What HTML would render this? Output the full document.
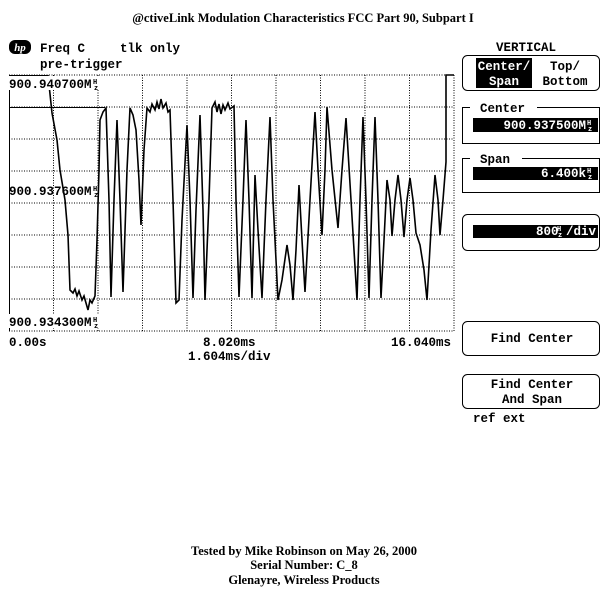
<!DOCTYPE html>
<html><head><meta charset="utf-8"><style>
html,body{margin:0;padding:0;background:#fff;}
svg{display:block}
.m{font-family:"Liberation Mono",monospace;font-weight:bold;font-size:12.5px;fill:#000}
.s{font-family:"Liberation Serif",serif;font-weight:bold;font-size:12.5px;fill:#000}
</style></head><body>
<svg width="607" height="593" viewBox="0 0 607 593" xmlns="http://www.w3.org/2000/svg">
<rect width="607" height="593" fill="#fff"/>
<text class="s" x="303" y="22" text-anchor="middle">@ctiveLink Modulation Characteristics FCC Part 90, Subpart I</text>
<!-- hp logo -->
<rect x="9" y="40" width="22" height="14" rx="6" fill="#000"/>
<text x="20" y="51" text-anchor="middle" font-family="Liberation Serif,serif" font-style="italic" font-weight="bold" font-size="11" fill="#fff">hp</text>
<text class="m" x="40" y="52">Freq C</text>
<text class="m" x="120" y="52">tlk only</text>
<text class="m" x="40" y="68">pre-trigger</text>
<!-- grid -->
<g stroke="#000" stroke-width="1" stroke-dasharray="1,1.5" fill="none">
<line x1="9" y1="107" x2="454" y2="107"/><line x1="9" y1="139" x2="454" y2="139"/>
<line x1="9" y1="171" x2="454" y2="171"/><line x1="9" y1="203" x2="454" y2="203"/>
<line x1="9" y1="235" x2="454" y2="235"/><line x1="9" y1="267" x2="454" y2="267"/>
<line x1="9" y1="299" x2="454" y2="299"/><line x1="9" y1="331" x2="454" y2="331"/>
<line x1="9" y1="75" x2="454" y2="75"/>
<line x1="53.5" y1="75" x2="53.5" y2="331"/><line x1="98" y1="75" x2="98" y2="331"/>
<line x1="142.5" y1="75" x2="142.5" y2="331"/><line x1="187" y1="75" x2="187" y2="331"/>
<line x1="231.5" y1="75" x2="231.5" y2="331"/><line x1="276" y1="75" x2="276" y2="331"/>
<line x1="320.5" y1="75" x2="320.5" y2="331"/><line x1="365" y1="75" x2="365" y2="331"/>
<line x1="409.5" y1="75" x2="409.5" y2="331"/><line x1="454" y1="75" x2="454" y2="331"/>
</g>
<line x1="9.5" y1="75" x2="9.5" y2="331" stroke="#000"/>
<line x1="9" y1="75.5" x2="48" y2="75.5" stroke="#000"/>
<line x1="9" y1="107.5" x2="105" y2="107.5" stroke="#000"/>
<polyline fill="none" stroke="#000" stroke-width="1.6" points="48,75 52,113 57,140 60,170 65,200 68,235 70,290 73,293 75,289 77,296 79,291 82,300 84,296 86,303 88,310 90,300 92,303 95,296 97,240 99,170 100,120 103,112 106,108 109,200 111,297 114,200 117,120 120,200 123,292 127,170 130,108 133,115 136,130 139,180 141,225 144,150 147,108 150,112 152,104 155,110 157,102 159,109 161,99 163,108 166,103 168,112 170,110 173,200 176,303 179,300 182,220 187,125 190,200 193,298 196,210 200,115 203,210 205,300 209,200 212,108 215,102 217,112 219,104 221,114 223,105 225,110 228,103 230,109 234,106 236,200 239,297 243,200 246,120 249,200 252,298 255,175 258,230 262,298 266,200 270,117 273,200 278,300 282,280 287,245 290,265 293,300 296,250 299,185 302,240 305,292 310,200 315,112 318,170 322,235 325,170 327,107 332,170 338,228 342,170 346,118 351,200 357,300 360,200 363,117 366,200 369,298 372,200 375,117 378,200 381,298 384,240 387,180 390,200 392,236 395,200 398,175 401,200 404,237 407,200 410,178 413,200 416,233 420,245 424,270 427,300 431,230 435,175 438,200 440,235 443,200 446,162 446,75 454,75"/>
<!-- axis labels -->
<rect x="9" y="76" width="98" height="14" fill="#fff"/>
<text class="m" x="9" y="88">900.940700M</text>
<text class="m" x="9" y="195">900.937600M</text>
<rect x="9" y="314" width="98" height="14" fill="#fff"/>
<text class="m" x="9" y="326">900.934300M</text>
<text x="93" y="84" font-family="Liberation Mono,monospace" font-size="7" font-weight="bold">H</text><text x="94" y="90" font-family="Liberation Mono,monospace" font-size="7" font-weight="bold">z</text>
<text x="93" y="191" font-family="Liberation Mono,monospace" font-size="7" font-weight="bold">H</text><text x="94" y="197" font-family="Liberation Mono,monospace" font-size="7" font-weight="bold">z</text>
<text x="93" y="322" font-family="Liberation Mono,monospace" font-size="7" font-weight="bold">H</text><text x="94" y="328" font-family="Liberation Mono,monospace" font-size="7" font-weight="bold">z</text>
<text class="m" x="9" y="346">0.00s</text>
<text class="m" x="203" y="346">8.020ms</text>
<text class="m" x="188" y="360">1.604ms/div</text>
<text class="m" x="391" y="346">16.040ms</text>
<!-- right panel -->
<text class="m" x="496" y="51">VERTICAL</text>
<rect x="462.5" y="55.5" width="137" height="35" rx="5" fill="none" stroke="#000"/>
<rect x="476" y="58" width="56" height="30" fill="#000"/>
<text class="m" x="504" y="70" text-anchor="middle" style="fill:#fff">Center/</text>
<text class="m" x="504" y="85" text-anchor="middle" style="fill:#fff">Span</text>
<text class="m" x="565" y="70" text-anchor="middle">Top/</text>
<text class="m" x="565" y="85" text-anchor="middle">Bottom</text>

<path d="M470 107.5 H462.5 V143.5 H599.5 V107.5 H537" fill="none" stroke="#000"/>
<text class="m" x="480" y="112">Center</text>
<rect x="473" y="118" width="125" height="14" fill="#000"/>
<text class="m" x="586" y="129" text-anchor="end" style="fill:#fff">900.937500M</text>
<text x="587" y="125" font-family="Liberation Mono,monospace" font-size="7" font-weight="bold" fill="#fff">H</text><text x="588" y="131" font-family="Liberation Mono,monospace" font-size="7" font-weight="bold" fill="#fff">z</text>

<path d="M470 158.5 H462.5 V192.5 H599.5 V158.5 H522" fill="none" stroke="#000"/>
<text class="m" x="480" y="163">Span</text>
<rect x="473" y="167" width="125" height="13" fill="#000"/>
<text class="m" x="586" y="177" text-anchor="end" style="fill:#fff">6.400k</text>
<text x="587" y="173" font-family="Liberation Mono,monospace" font-size="7" font-weight="bold" fill="#fff">H</text><text x="588" y="179" font-family="Liberation Mono,monospace" font-size="7" font-weight="bold" fill="#fff">z</text>

<rect x="462.5" y="214.5" width="137" height="36" rx="5" fill="none" stroke="#000"/>
<rect x="473" y="225" width="125" height="13" fill="#000"/>
<text class="m" x="596" y="235" text-anchor="end" style="fill:#fff">800&#160;/div</text>
<text x="557" y="231" font-family="Liberation Mono,monospace" font-size="7" font-weight="bold" fill="#fff">H</text><text x="558" y="237" font-family="Liberation Mono,monospace" font-size="7" font-weight="bold" fill="#fff">z</text>

<rect x="462.5" y="321.5" width="137" height="34" rx="5" fill="none" stroke="#000"/>
<text class="m" x="532" y="342" text-anchor="middle">Find Center</text>
<rect x="462.5" y="374.5" width="137" height="34" rx="5" fill="none" stroke="#000"/>
<text class="m" x="532" y="388" text-anchor="middle">Find Center</text>
<text class="m" x="532" y="403" text-anchor="middle">And Span</text>
<text class="m" x="473" y="422">ref ext</text>
<!-- footer -->
<text class="s" x="304" y="555" text-anchor="middle">Tested by Mike Robinson on May 26, 2000</text>
<text class="s" x="304" y="569" text-anchor="middle">Serial Number: C_8</text>
<text class="s" x="304" y="584" text-anchor="middle">Glenayre, Wireless Products</text>
</svg>
</body></html>
